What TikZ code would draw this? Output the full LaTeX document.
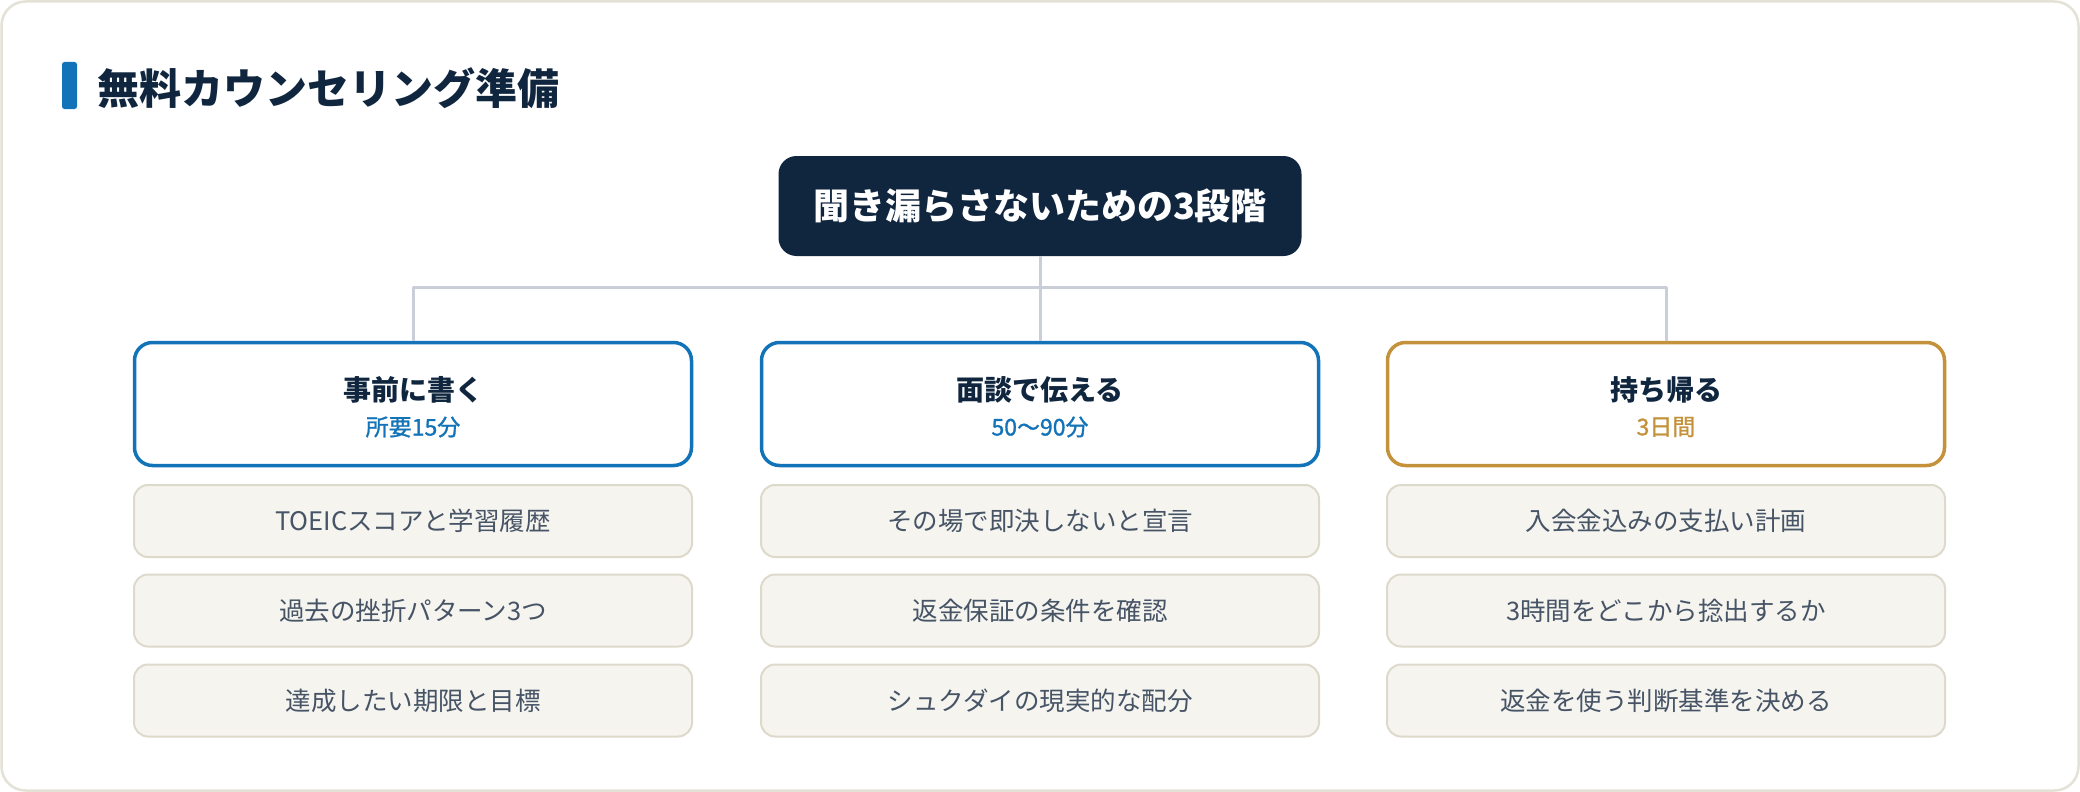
\documentclass[tikz,border=0pt]{standalone}
\usepackage{fontspec}
\setmainfont{Noto Sans CJK JP}
\newfontfamily\subfont{Noto Sans CJK JP}[FakeBold=1.2]
\definecolor{navy}{HTML}{10263F}
\definecolor{stageblue}{HTML}{1373B8}
\definecolor{stagegold}{HTML}{C4923A}
\definecolor{itemfill}{HTML}{F5F4EF}
\definecolor{itemline}{HTML}{DDD9CB}
\definecolor{itemtext}{HTML}{465466}
\definecolor{busline}{HTML}{C9CED8}
\definecolor{frameline}{HTML}{E4E2D6}
\tikzset{
  rootbox/.style={fill=navy,text=white,rounded corners=18pt,minimum width=523pt,minimum height=100pt,
    font={\fontsize{36}{42}\selectfont\bfseries}},
  stagebox/.style={draw=#1,fill=white,line width=3.5pt,rounded corners=18pt,minimum width=557pt,minimum height=123pt},
  stagetitle/.style={text=navy,inner sep=0pt,font={\fontsize{28}{32}\selectfont\bfseries}},
  stagesub/.style={text=#1,inner sep=0pt,font={\fontsize{23}{27}\subfont}},
  itembox/.style={draw=itemline,fill=itemfill,line width=2pt,rounded corners=14pt,minimum width=558pt,minimum height=72pt,
    text=itemtext,font={\fontsize{25.5}{30}\selectfont}},
  bus/.style={busline,line width=3pt}
}
\begin{document}
\begin{tikzpicture}[x=1pt,y=-1pt,line join=round]
\useasboundingbox (0,0) rectangle (2080,792);
\draw[frameline,line width=2.5pt,rounded corners=24pt] (1.5,1.5) rectangle (2078.5,790.5);
% heading
\fill[stageblue,rounded corners=2.5pt] (62,62) rectangle (77,109);
\node[anchor=west,inner sep=0pt,text=navy,font={\fontsize{42}{48}\selectfont\bfseries}] (heading) at (97,88) {無料カウンセリング準備};
% root and bus
\node[rootbox] (root) at (1040,206) {聞き漏らさないための3段階};
\coordinate (bus) at (1040,287);
% stages
\node[stagebox=stageblue] (s1) at (413,404) {};
\node[stagebox=stageblue] (s2) at (1040,404) {};
\node[stagebox=stagegold] (s3) at (1666,404) {};
\node[stagetitle] (s1t) at (413,390) {事前に書く};
\node[stagesub=stageblue] (s1s) at (413,427) {所要15分};
\node[stagetitle] (s2t) at (1040,390) {面談で伝える};
\node[stagesub=stageblue] (s2s) at (1040,427) {50〜90分};
\node[stagetitle] (s3t) at (1666,390) {持ち帰る};
\node[stagesub=stagegold] (s3s) at (1666,427) {3日間};
\draw[bus] (root.south) -- (bus);
\draw[bus] (s1.north) |- (bus) -| (s3.north);
\draw[bus] (bus) -- (s2.north);
% items
\node[itembox] (s1a) at (413,521) {TOEICスコアと学習履歴};
\node[itembox] (s1b) at (413,610.5) {過去の挫折パターン3つ};
\node[itembox] (s1c) at (413,700.5) {達成したい期限と目標};
\node[itembox] (s2a) at (1040,521) {その場で即決しないと宣言};
\node[itembox] (s2b) at (1040,610.5) {返金保証の条件を確認};
\node[itembox] (s2c) at (1040,700.5) {シュクダイの現実的な配分};
\node[itembox] (s3a) at (1666,521) {入会金込みの支払い計画};
\node[itembox] (s3b) at (1666,610.5) {3時間をどこから捻出するか};
\node[itembox] (s3c) at (1666,700.5) {返金を使う判断基準を決める};
\end{tikzpicture}
\end{document}
